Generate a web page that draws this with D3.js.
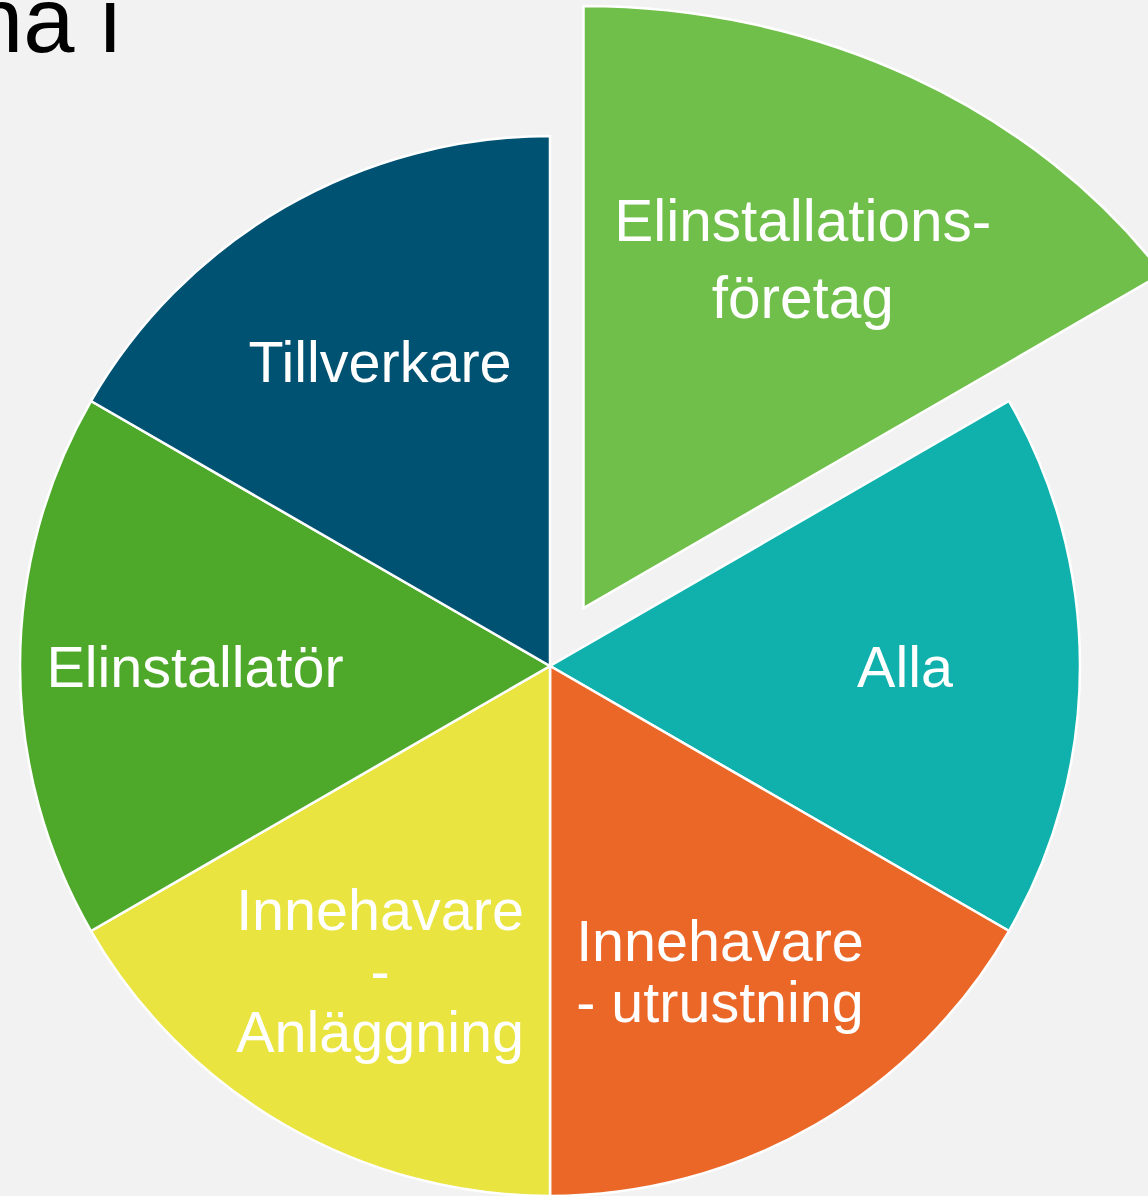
<!DOCTYPE html>
<html lang="sv">
<head>
  <meta charset="UTF-8">
  <title>Roller</title>
  <style>
    html, body {
      margin: 0;
      padding: 0;
      background: #f2f2f2;
    }
    svg {
      display: block;
      font-family: "Liberation Sans", Arial, sans-serif;
    }
  </style>
</head>
<body>
  <div id="chart"></div>
  <script src="https://d3js.org/d3.v7.min.js"></script>
  <script>
    // slices clockwise from 12 o'clock
    const labels = [
      ['Elinstallations-', 'företag'],
      ['Alla'],
      ['Innehavare', '- utrustning'],
      ['Innehavare', '-', 'Anläggning'],
      ['Elinstallatör'],
      ['Tillverkare']
    ];
    const values = [1, 1, 1, 1, 1, 1];
    const colors = ['#70bf4b', '#10b1ad', '#eb6727', '#eae440', '#4ea829', '#005272'];
    const exploded = [true, false, false, false, false, false];
    const titleFragment = 'na i';

    const W = 1148, H = 1196;
    const cx = 550, cy = 666;
    const R = 530;
    const labelRx = 340, labelRy = 352;
    // the pulled-out slice is drawn larger and a bit wider
    const explodeDist = 67;
    const bigRx = 696, bigRy = 602;
    const bigLabelKx = 0.63, bigLabelKy = 0.67;

    const svg = d3.select('#chart').append('svg')
      .attr('width', W)
      .attr('height', H);

    svg.append('rect')
      .attr('width', W)
      .attr('height', H)
      .attr('fill', '#f2f2f2');

    // tail of the slide title, cut by the left edge
    svg.append('text')
      .attr('x', -28)
      .attr('y', 52)
      .attr('font-size', 92)
      .attr('fill', '#000')
      .text(titleFragment);

    const data = labels.map((l, i) => ({ lines: l, value: values[i], color: colors[i], out: exploded[i] }));

    const pie = d3.pie()
      .value(d => d.value)
      .sort(null);

    const arcs = pie(data);

    const arc = d3.arc()
      .innerRadius(0)
      .outerRadius(R);

    const g = svg.append('g')
      .attr('transform', `translate(${cx},${cy})`);

    // elliptical wedge for the exploded slice, apex at origin
    function bigWedge(d) {
      const pt = a => {
        const dx = Math.sin(a), dy = -Math.cos(a);
        const t = 1 / Math.sqrt((dx / bigRx) ** 2 + (dy / bigRy) ** 2);
        return [dx * t, dy * t];
      };
      const p0 = pt(d.startAngle), p1 = pt(d.endAngle);
      return `M0,0L${p0[0]},${p0[1]}A${bigRx},${bigRy} 0 0 1 ${p1[0]},${p1[1]}Z`;
    }

    const slices = g.selectAll('g.slice')
      .data(arcs)
      .enter().append('g')
      .attr('class', 'slice')
      .attr('transform', d => {
        if (!d.data.out) return null;
        const mid = (d.startAngle + d.endAngle) / 2;
        return `translate(${Math.sin(mid) * explodeDist},${-Math.cos(mid) * explodeDist})`;
      });

    slices.append('path')
      .attr('d', d => d.data.out ? bigWedge(d) : arc(d))
      .attr('fill', d => d.data.color)
      .attr('stroke', '#fff')
      .attr('stroke-width', 2.5)
      .attr('stroke-linejoin', 'miter');

    slices.append('text')
      .attr('fill', '#fff')
      .attr('font-size', d => d.data.out ? 58.5 : 57.5)
      .attr('text-anchor', 'middle')
      .each(function (d) {
        const mid = (d.startAngle + d.endAngle) / 2;
        const fs = d.data.out ? 58.5 : 57.5;
        const capH = fs * 0.716;
        const lh = d.data.out ? 77 : 61;
        // horizontal slices sit a little further out than the slanted ones
        const side = Math.abs(Math.sin(mid));
        const rx = labelRx + (labelRy - labelRx) * (side > 0.99 ? 1.25 : 0);
        const x = d.data.out ? Math.sin(mid) * bigRx * bigLabelKx : Math.sin(mid) * rx;
        const y = d.data.out ? -Math.cos(mid) * bigRy * bigLabelKy : -Math.cos(mid) * labelRy;
        const n = d.data.lines.length;
        const y0 = y - (n - 1) * lh / 2 + capH / 2;
        d3.select(this).selectAll('tspan')
          .data(d.data.lines)
          .enter().append('tspan')
          .attr('x', x)
          .attr('y', (t, i) => y0 + i * lh)
          .text(t => t);
      });
  </script>
</body>
</html>
